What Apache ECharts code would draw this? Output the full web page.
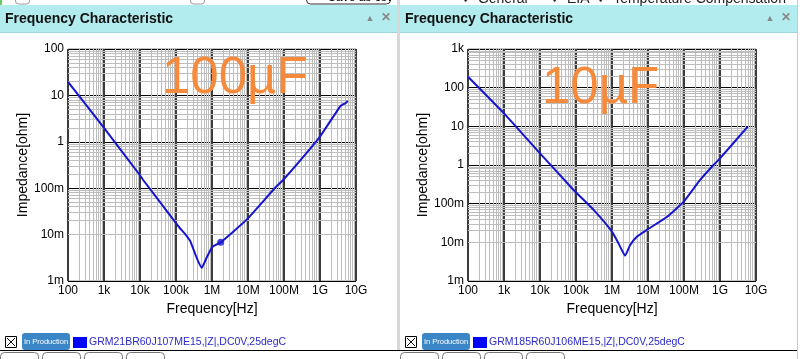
<!DOCTYPE html>
<html><head><meta charset="utf-8">
<script src="https://cdn.jsdelivr.net/npm/echarts@6/dist/echarts.min.js"></script>
<style>html,body{margin:0;padding:0;background:#fff;}#c{width:806px;height:359px;}</style>
</head><body><div id="c"></div>
<script>
// ---- data ----
const xTickLabels = ['100','1k','10k','100k','1M','10M','100M','1G','10G'];
const yTickLabelsLeft = ['1m','10m','100m','1','10','100'];
const yTickLabelsRight = ['1m','10m','100m','1','10','100','1k'];

const freqLeft = [100, 1000, 10000, 12100, 84100, 129000, 178000, 245000, 376000, 518000, 713000, 980000, 1070000, 1740000, 9200000, 56000000, 96000000, 1000000000, 3600000000, 4470000000, 5000000000, 5900000000];
const zLeft    = [19.5, 2.0, 0.19, 0.152, 0.021, 0.0137, 0.0104, 0.0074, 0.00316, 0.00192, 0.0032, 0.0052, 0.0056, 0.0068, 0.021, 0.101, 0.152, 1.3, 5.74, 6.46, 6.7, 7.63];
const markerLeft = [1740000, 0.0068];

const freqRight = [100, 1000, 10000, 85700, 309000, 1000000, 1520000, 2300000, 3200000, 4900000, 9300000, 34000000, 100000000, 280000000, 660000000, 1000000000, 5900000000];
const zRight    = [192, 21.7, 2.0, 0.226, 0.069, 0.0189, 0.0094, 0.0045, 0.0085, 0.014, 0.021, 0.046, 0.115, 0.41, 1.0, 1.48, 9.8];

const capLeft = '100µF', capRight = '10µF';
const legendLeft = 'GRM21BR60J107ME15,|Z|,DC0V,25degC';
const legendRight = 'GRM185R60J106ME15,|Z|,DC0V,25degC';
const panelTitle = 'Frequency Characteristic';

// ---- build ----
const chart = echarts.init(document.getElementById('c'), null, {renderer:'canvas'});
const FONT = '"Liberation Sans", Arial, sans-serif';
const LINE = '#1515d0';

function minorVals(e0, e1){ const a=[]; for(let e=e0;e<e1;e++){ for(let k=2;k<=9;k++) a.push(k*Math.pow(10,e)); } return a; }
function pairs(f,z){ return f.map((v,i)=>[v,z[i]]); }

function xAxisFor(i){
  return {type:'log', logBase:10, gridIndex:i, min:100, max:1e10, interval:1,
    name:'Frequency[Hz]', nameLocation:'middle', nameGap:17,
    nameTextStyle:{fontFamily:FONT, fontSize:14, color:'#000'},
    axisLine:{show:false}, axisTick:{show:false},
    axisLabel:{margin:4, fontFamily:FONT, fontSize:12, color:'#000',
      formatter:v=>xTickLabels[Math.round(Math.log10(v))-2]},
    splitLine:{show:true, lineStyle:{color:'#3c3c3c', width:2}}};
}
function yAxisFor(i, maxV, labels){
  return {type:'log', logBase:10, gridIndex:i, min:0.001, max:maxV, interval:1,
    name:'Impedance[ohm]', nameLocation:'middle', nameGap:38,
    nameTextStyle:{fontFamily:FONT, fontSize:14, color:'#000'},
    axisLine:{show:false}, axisTick:{show:false},
    axisLabel:{margin:4, fontFamily:FONT, fontSize:12, color:'#000',
      formatter:v=>labels[Math.round(Math.log10(v))+3]},
    splitLine:{show:true, lineStyle:{color:'#000', width:1}}};
}
function gridSeries(i, yE1){
  const data = minorVals(2,10).map(v=>({xAxis:v})).concat(minorVals(-3,yE1).map(v=>({yAxis:v})));
  return {type:'line', xAxisIndex:i, yAxisIndex:i, data:[[1e5,0.01]], showSymbol:false, silent:true,
    lineStyle:{opacity:0}, z:1, animation:false,
    markLine:{silent:true, symbol:['none','none'], label:{show:false}, animation:false,
      lineStyle:{color:'#bdbdbd', width:1, type:'solid'}, emphasis:{disabled:true}, data:data}};
}
function curve(i, f, z){
  return {type:'line', xAxisIndex:i, yAxisIndex:i, data:pairs(f,z), showSymbol:false, smooth:0.12,
    lineStyle:{color:LINE, width:2}, z:5, animation:false};
}

function header(x0){
  return [
    {type:'rect', shape:{x:x0, y:5, width:397, height:28}, style:{fill:'#b2ecef'}},
    {type:'rect', shape:{x:x0, y:32, width:397, height:1}, style:{fill:'#9fd4da'}},
    {type:'text', x:x0+5, y:19, style:{text:panelTitle, font:'bold 14px '+FONT, fill:'#111', verticalAlign:'middle'}},
    {type:'text', x:x0+370, y:19, style:{text:'▲', font:'9px '+FONT, fill:'#888', align:'center', verticalAlign:'middle'}},
    {type:'text', x:x0+386, y:18, style:{text:'✕', font:'bold 12px '+FONT, fill:'#888', align:'center', verticalAlign:'middle'}}
  ];
}
function legendRow(x0, txt){
  return [
    {type:'rect', shape:{x:x0+5.5, y:336.5, width:11, height:11}, style:{fill:'#fff', stroke:'#000', lineWidth:1}},
    {type:'line', shape:{x1:x0+7, y1:338, x2:x0+15, y2:346}, style:{stroke:'#000', lineWidth:1}},
    {type:'line', shape:{x1:x0+15, y1:338, x2:x0+7, y2:346}, style:{stroke:'#000', lineWidth:1}},
    {type:'rect', shape:{x:x0+22, y:333, width:48, height:17, r:3}, style:{fill:'#3b86c7'}},
    {type:'text', x:x0+46, y:341.5, style:{text:'In Production', font:'7.5px '+FONT, fill:'#fff', align:'center', verticalAlign:'middle'}},
    {type:'rect', shape:{x:x0+73, y:337, width:14, height:11}, style:{fill:'#0000ff'}},
    {type:'text', x:x0+89, y:342.5, style:{text:txt, font:'10.5px '+FONT, fill:'#2a2ac8', verticalAlign:'middle'}}
  ];
}
function tabs(x0){
  const out=[];
  [[0,40],[42,82],[84,124],[126,166]].forEach(t=>out.push({type:'rect', shape:{x:x0+t[0]+0.5, y:352.5, width:t[1]-t[0]-2, height:12, r:4}, style:{fill:'#fff', stroke:'#777', lineWidth:1}}));
  return out;
}

let graphics = [];
graphics = graphics.concat(header(0), header(400));
graphics.push({type:'rect', shape:{x:397, y:0, width:3, height:351}, style:{fill:'#d8d8d8'}});
graphics.push({type:'rect', shape:{x:797, y:0, width:1, height:359}, style:{fill:'#c8c8c8'}});
graphics.push({type:'rect', shape:{x:0, y:0, width:2, height:5}, style:{fill:'#6c6'}});
graphics.push({type:'rect', shape:{x:306.5, y:-8, width:84, height:12, r:4}, style:{fill:'#fff', stroke:'#333', lineWidth:1}});
graphics.push({type:'rect', shape:{x:15.5, y:-8, width:14, height:12, r:3}, style:{fill:'#fff', stroke:'#999', lineWidth:1}});
graphics.push({type:'rect', shape:{x:190.5, y:-8, width:14, height:12, r:3}, style:{fill:'#fff', stroke:'#999', lineWidth:1}});
graphics.push({type:'text', x:328, y:-2, style:{text:'Save as csv', font:'12px '+FONT, fill:'#000', verticalAlign:'middle'}});
graphics.push({type:'text', x:462, y:-1, style:{text:'✓ General      ✓ EIA  ✓ Temperature Compensation', font:'14px '+FONT, fill:'#222', verticalAlign:'middle'}});
graphics.push({type:'rect', shape:{x:0, y:350, width:797, height:1}, style:{fill:'#000'}});
graphics = graphics.concat(legendRow(0, legendLeft), legendRow(400, legendRight), tabs(0), tabs(400));
graphics.push({type:'text', x:162, y:79, z:10, style:{text:capLeft, font:'51px '+FONT, fill:'#f68a3c', verticalAlign:'middle'}});
graphics.push({type:'text', x:542, y:89, z:10, style:{text:capRight, font:'51px '+FONT, fill:'#f68a3c', verticalAlign:'middle'}});

chart.setOption({
  animation:false,
  backgroundColor:'#fff',
  grid:[
    {left:68, top:49, width:288, height:232, show:true, borderColor:'#8a8a8a', borderWidth:1, backgroundColor:'#fff'},
    {left:468, top:49, width:288, height:232, show:true, borderColor:'#8a8a8a', borderWidth:1, backgroundColor:'#fff'}
  ],
  xAxis:[xAxisFor(0), xAxisFor(1)],
  yAxis:[yAxisFor(0, 100, yTickLabelsLeft), yAxisFor(1, 1000, yTickLabelsRight)],
  series:[
    gridSeries(0, 2), gridSeries(1, 3),
    curve(0, freqLeft, zLeft), curve(1, freqRight, zRight),
    {type:'scatter', xAxisIndex:0, yAxisIndex:0, data:[markerLeft], symbolSize:7, itemStyle:{color:LINE}, z:6, animation:false}
  ],
  graphic:{elements:graphics}
});
</script></body></html>
